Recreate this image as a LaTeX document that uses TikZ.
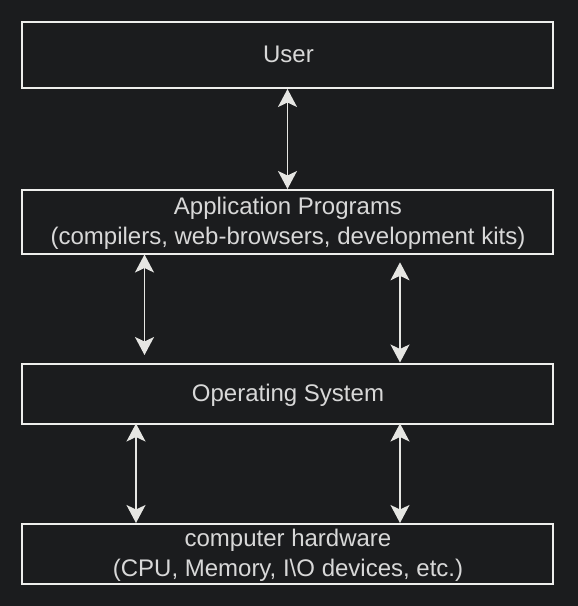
\documentclass[tikz,border=0pt]{standalone}
\usepackage{fontspec}
\setmainfont{Liberation Sans}
\usetikzlibrary{arrows.meta}
\definecolor{bgc}{HTML}{1B1C1E}
\definecolor{linec}{HTML}{EEEEEC}
\definecolor{textc}{HTML}{D8D8D8}
\definecolor{arrc}{HTML}{E6E6E3}
\tikzset{
  layer/.style={draw=linec, line width=2pt, minimum width=531pt, inner sep=0pt},
  txt/.style={anchor=base, inner sep=0pt, text=textc, font=\fontsize{24}{30}\selectfont},
  arr/.style={draw=arrc, line width=1.6pt,
    {Stealth[length=18pt, width=19pt, inset=4.5pt]}-{Stealth[length=18pt, width=19pt, inset=4.5pt]}}
}
\begin{document}
\begin{tikzpicture}[x=1pt,y=-1pt]
\fill[bgc] (0,0) rectangle (578,606);
\useasboundingbox (0,0) rectangle (578,606);
\node[layer, minimum height=66pt] (user) at (287.5,55) {};
\node[layer, minimum height=63.5pt] (app) at (287.5,221.75) {};
\node[layer, minimum height=60pt] (os) at (287.5,393.5) {};
\node[layer, minimum height=60pt] (hw) at (287.5,554) {};
\node[txt] (userT) at (288.5,62.3) {User};
\node[txt] (appT1) at (288,214.8) {Application Programs};
\node[txt] (appT2) at (288,244.6) {(compilers, web-browsers, development kits)};
\node[txt] (osT) at (288,401.7) {Operating System};
\node[txt] (hwT1) at (288,546.8) {computer hardware};
\node[txt] (hwT2) at (288,576.3) {(CPU, Memory, I\textbackslash O devices, etc.)};
\draw[arr] (user.south) -- (app.north);
\draw[arr] ([xshift=-143pt]app.south) -- ([xshift=-143pt,yshift=7.5pt]os.north);
\draw[arr] ([xshift=112.5pt,yshift=-7.8pt]app.south) -- ([xshift=112.5pt]os.north);
\draw[arr] ([xshift=-151.5pt,yshift=1pt]os.south) -- ([xshift=-151.5pt]hw.north);
\draw[arr] ([xshift=112.5pt,yshift=1pt]os.south) -- ([xshift=112.5pt]hw.north);
\end{tikzpicture}
\end{document}
